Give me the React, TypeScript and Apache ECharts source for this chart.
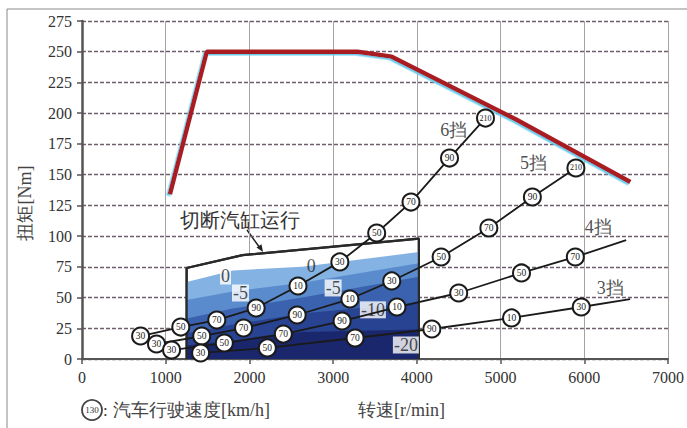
import React, { useEffect, useRef } from "react";
import * as echarts from "echarts";

// ---------- data ----------
const xTicks = [0, 1000, 2000, 3000, 4000, 5000, 6000, 7000];
const yTicks = [0, 25, 50, 75, 100, 125, 150, 175, 200, 225, 250, 275];

// full-load torque curve
const torqueRpm = [1050, 1490, 3290, 3700, 5180, 6550];
const torqueNm = [134, 250, 250, 246, 195, 144];

// gear road-load lines (marker = vehicle speed)
const gear6Rpm = [700, 1180, 1610, 2080, 2580, 3080, 3520, 3930, 4390, 4820];
const gear6Nm = [18.7, 26, 31.7, 41.5, 59.4, 79, 102.5, 127.7, 163.5, 196];
const gear6Labels = ["30", "50", "70", "90", "10", "30", "50", "70", "90", "210"];

const gear5Rpm = [890, 1430, 1930, 2570, 3200, 3700, 4290, 4860, 5380, 5900];
const gear5Nm = [12.2, 18.7, 25.2, 35.8, 48.8, 63.5, 83, 106.6, 131.8, 155.4];
const gear5Labels = ["30", "50", "70", "90", "10", "30", "50", "70", "90", "210"];

const gear4Rpm = [1070, 1700, 2405, 3107, 3762, 4500, 5250, 5893];
const gear4Nm = [7.3, 13, 20.3, 30.9, 42.3, 53.7, 70, 83];
const gear4Labels = ["30", "50", "70", "90", "10", "30", "50", "70"];
const gear4End = [6500, 96.8];

const gear3Rpm = [1417, 2214, 3262, 4179, 5131, 5964];
const gear3Nm = [4.9, 9, 17.1, 24.4, 33.4, 42.3];
const gear3Labels = ["30", "50", "70", "90", "10", "30"];
const gear3End = [6548, 48.8];

const gearNames = ["6挡", "5挡", "4挡", "3挡"];
const gearNameRpm = [4440, 5393, 6167, 6310];
const gearNameNm = [186, 159.5, 107.4, 57.8];

// cylinder-deactivation region and its bands
const regionRpm = [1250, 1250, 1917, 4024, 4024];
const regionNm = [0, 74, 84.5, 98, 0];
const bandRpm = [1250, 1800, 2630, 4024];
const band0 = [62.6, 72, 75, 87];
const band5 = [48, 55, 62, 78];
const band10 = [33, 41, 50, 67];
const band15 = [21, 28, 37, 46];
const band20 = [11, 15, 22, 24];
const bandColors = ["#84b2e3", "#5a8bcd", "#3b62ae", "#274392", "#1b276c"];

const contourLabels = ["0", "0", "-5", "-5", "-10", "-20"];
const contourRpm = [1714, 2738, 1893, 3000, 3475, 3869];
const contourNm = [67.5, 75.7, 53.7, 57.8, 40, 11.4];
const contourBg = [true, false, true, true, true, true];

const SERIF = "Liberation Serif";

function pairs(xs: number[], ys: number[]) {
  return xs.map((x, i) => [x, ys[i]]);
}

function gearSeries(rpm: number[], nm: number[], labels: string[], end?: number[]) {
  const data: any[] = rpm.map((r, i) => ({
    value: [r, nm[i]],
    label: { formatter: labels[i], fontSize: labels[i].length > 2 ? 8 : 9.5 },
  }));
  if (end) data.push({ value: end, symbol: "none", label: { show: false } });
  return {
    type: "line",
    data,
    z: 5,
    symbol: "circle",
    symbolSize: 17,
    showAllSymbol: true,
    lineStyle: { color: "#1a1a1a", width: 1.8 },
    itemStyle: { color: "#ffffff", borderColor: "#1a1a1a", borderWidth: 2 },
    label: {
      show: true,
      position: "inside",
      color: "#222",
      fontFamily: SERIF,
    },
  };
}

function bandSeries(vals: number[], color: string, z: number) {
  return {
    type: "line",
    data: [[bandRpm[0], 0], ...pairs(bandRpm, vals), [bandRpm[bandRpm.length - 1], 0]],
    symbol: "none",
    z,
    lineStyle: { width: 0, color },
    areaStyle: { color, opacity: 1 },
  };
}

export default function App() {
  const ref = useRef<HTMLDivElement>(null);
  useEffect(() => {
    if (!ref.current) return;
    const chart = echarts.init(ref.current, null, { renderer: "svg" });
    const option: any = {
      animation: false,
      backgroundColor: "#ffffff",
      grid: { left: 82, right: 17, top: 21, bottom: 69 },
      xAxis: {
        type: "value",
        min: xTicks[0],
        max: xTicks[xTicks.length - 1],
        interval: 1000,
        axisLine: { show: true, onZero: false, lineStyle: { color: "#555", width: 2 } },
        axisTick: { show: true, length: 5, lineStyle: { color: "#555", width: 1.5 } },
        axisLabel: { color: "#333", fontSize: 16, fontFamily: SERIF, margin: 10, formatter: (v: number) => String(v) },
        splitLine: { show: true, lineStyle: { color: "#a3a3a3", width: 1 } },
      },
      yAxis: {
        type: "value",
        min: yTicks[0],
        max: yTicks[yTicks.length - 1],
        interval: 25,
        axisLine: { show: true, lineStyle: { color: "#555", width: 2.5 } },
        axisTick: { show: true, length: 5, lineStyle: { color: "#555", width: 1.5 } },
        axisLabel: { color: "#333", fontSize: 16, fontFamily: SERIF, margin: 10, formatter: (v: number) => String(v) },
        splitLine: { show: true, lineStyle: { color: "#6f5e6c", width: 1.3, type: [4, 2] } },
      },
      series: [
        {
          type: "line",
          data: pairs(regionRpm, regionNm),
          symbol: "none",
          z: 1,
          lineStyle: { color: "#2a2a2a", width: 2.2 },
          areaStyle: { color: "#ffffff", opacity: 1 },
        },
        bandSeries(band0, bandColors[0], 2),
        bandSeries(band5, bandColors[1], 2),
        bandSeries(band10, bandColors[2], 2),
        bandSeries(band15, bandColors[3], 2),
        bandSeries(band20, bandColors[4], 2),
        {
          type: "line",
          data: pairs(regionRpm, regionNm),
          symbol: "none",
          z: 3,
          lineStyle: { color: "#2a2a2a", width: 2.2 },
        },
        {
          type: "scatter",
          z: 4,
          symbolSize: 1,
          itemStyle: { color: "rgba(0,0,0,0)" },
          data: contourLabels.map((t, i) => ({
            value: [contourRpm[i], contourNm[i]],
            label: {
              formatter: t,
              backgroundColor: contourBg[i] ? "#ffffff" : "transparent",
            },
          })),
          label: {
            show: true,
            position: "inside",
            color: "#222",
            fontSize: 18,
            fontFamily: SERIF,
            padding: [0, 1, -1, 1],
          },
        },
        {
          type: "line",
          data: pairs(torqueRpm, torqueNm),
          symbol: "none",
          z: 4,
          lineStyle: {
            color: "#a81e22",
            width: 4.5,
            shadowColor: "rgba(90,200,235,0.9)",
            shadowOffsetX: -1.5,
            shadowOffsetY: 1.5,
            shadowBlur: 0,
          },
        },
        gearSeries(gear6Rpm, gear6Nm, gear6Labels),
        gearSeries(gear5Rpm, gear5Nm, gear5Labels),
        gearSeries(gear4Rpm, gear4Nm, gear4Labels, gear4End),
        gearSeries(gear3Rpm, gear3Nm, gear3Labels, gear3End),
        {
          type: "scatter",
          z: 6,
          symbolSize: 1,
          itemStyle: { color: "rgba(0,0,0,0)" },
          data: gearNames.map((t, i) => ({ value: [gearNameRpm[i], gearNameNm[i]], label: { formatter: t } })),
          label: {
            show: true,
            position: "inside",
            color: "#222",
            fontSize: 18,
            fontFamily: SERIF,
          },
        },
      ],
      graphic: [
        { type: "line", shape: { x1: 7, y1: 9, x2: 687, y2: 9 }, style: { stroke: "#888", lineWidth: 1 } },
        { type: "line", shape: { x1: 7, y1: 9, x2: 7, y2: 428 }, style: { stroke: "#888", lineWidth: 1 } },
        {
          type: "text",
          x: 25,
          y: 203,
          rotation: Math.PI / 2,
          style: {
            text: "扭矩[Nm]",
            fill: "#444",
            fontSize: 18,
            fontFamily: SERIF,
            align: "center",
            verticalAlign: "middle",
          },
        },
        {
          type: "text",
          x: 240,
          y: 220,
          style: {
            text: "切断汽缸运行",
            fill: "#333",
            fontSize: 20,
            fontFamily: SERIF,
            align: "center",
            verticalAlign: "middle",
          },
        },
        { type: "line", shape: { x1: 247, y1: 230, x2: 260, y2: 248 }, style: { stroke: "#222", lineWidth: 1.5 } },
        { type: "polygon", shape: { points: [[263, 252], [256.5, 247.5], [261.5, 244.2]] }, style: { fill: "#222" } },
        {
          type: "circle",
          shape: { cx: 92, cy: 410, r: 10 },
          style: { fill: "#fff", stroke: "#444", lineWidth: 1.8 },
        },
        {
          type: "text",
          x: 92,
          y: 410,
          style: { text: "130", fill: "#333", fontSize: 9, fontFamily: SERIF, align: "center", verticalAlign: "middle" },
        },
        {
          type: "text",
          x: 103,
          y: 410,
          style: { text: ":", fill: "#333", fontSize: 17, fontFamily: SERIF, verticalAlign: "middle" },
        },
        {
          type: "text",
          x: 113,
          y: 410,
          style: {
            text: "汽车行驶速度[km/h]",
            fill: "#444",
            fontSize: 18,
            fontFamily: SERIF,
            verticalAlign: "middle",
          },
        },
        {
          type: "text",
          x: 358,
          y: 410,
          style: {
            text: "转速[r/min]",
            fill: "#444",
            fontSize: 18,
            fontFamily: SERIF,
            verticalAlign: "middle",
          },
        },
      ],
    };
    chart.setOption(option);
    return () => chart.dispose();
  }, []);
  return (
    <div
      ref={ref}
      style={{ position: "fixed", left: 0, top: 0, width: 687, height: 428, background: "#fff" }}
    />
  );
}
